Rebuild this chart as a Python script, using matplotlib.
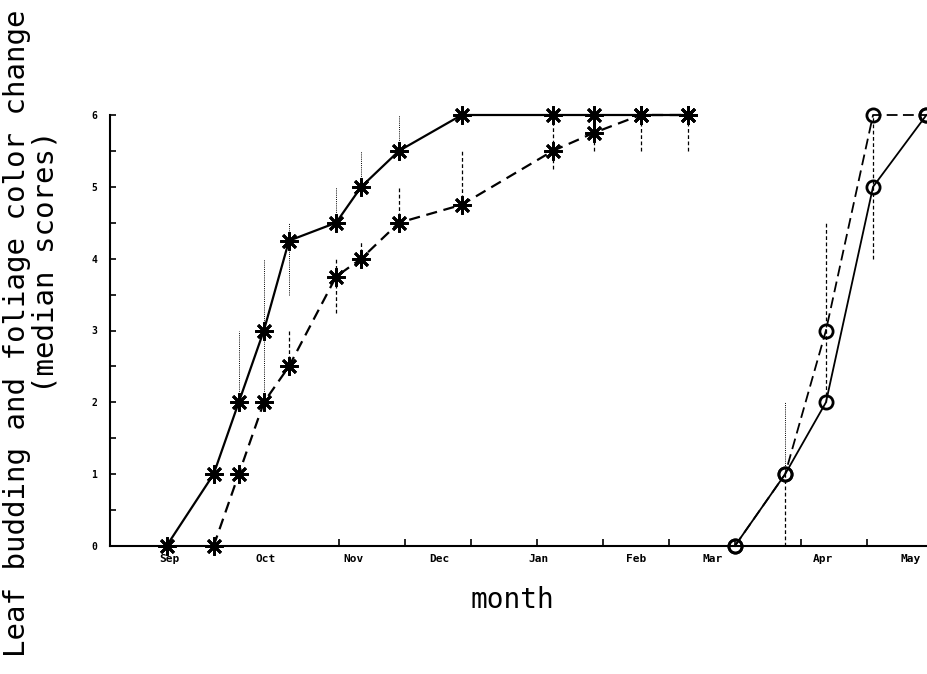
import numpy as np
import matplotlib
matplotlib.use("Agg")
import matplotlib.pyplot as plt

# x positions in days from 1 Sep
star_x_solid = [-1, 14, 22, 30, 38, 53, 61, 73, 93, 122, 135, 150, 165]
star_y_solid = [0, 1, 2, 3, 4.25, 4.5, 5, 5.5, 6, 6, 6, 6, 6]
star_x_dash = [14, 22, 30, 38, 53, 61, 73, 93, 122, 135, 150, 165]
star_y_dash = [0, 1, 2, 2.5, 3.75, 4, 4.5, 4.75, 5.5, 5.75, 6, 6]

circ_x = [180, 196, 209, 224, 241]
circ_y_solid = [0, 1, 2, 5, 6]
circ_y_dash = [0, 1, 3, 6, 6]

# range bars (x, low, high)
bars_dotted = [(22, 2, 3), (30, 2, 4), (38, 3.5, 4.5), (53, 4.5, 5), (61, 5, 5.5),
               (73, 5.5, 6), (196, 1, 2)]
bars_dashed = [(38, 2.5, 3), (53, 3.25, 4), (61, 4, 4.25), (73, 4.5, 5), (93, 4.75, 5.5),
               (122, 5.25, 6), (135, 5.5, 6), (150, 5.5, 6), (165, 5.5, 6),
               (196, 0, 1), (209, 2, 4.5), (224, 4, 6)]

month_names = ["Sep", "Oct", "Nov", "Dec", "Jan", "Feb", "Mar", "Apr", "May"]
month_pos = [0, 30.5, 58.5, 86, 117.5, 148.5, 173, 208, 236]
tick_pos = [54, 75, 96, 117, 138, 159, 180, 201, 222]

mono = "DejaVu Sans Mono"

fig = plt.figure(figsize=(9.28, 6.74), dpi=100)
ax = fig.add_axes([110 / 928, 128 / 674, 818 / 928, 431 / 674])

for x, lo, hi in bars_dotted:
    ax.plot([x, x], [lo, hi], color="black", lw=0.7, ls=(0, (1, 1.2)), zorder=1)
for x, lo, hi in bars_dashed:
    ax.plot([x, x], [lo, hi], color="black", lw=0.9, ls=(0, (3, 2)), zorder=1)

star = (8, 2, 0)
ax.plot(star_x_solid, star_y_solid, color="black", lw=1.6, marker=star,
        ms=13, mew=2.0, clip_on=False, zorder=3)
ax.plot(star_x_dash, star_y_dash, color="black", lw=1.6, ls=(0, (5, 3)), marker=star,
        ms=13, mew=2.0, clip_on=False, zorder=3)
ax.plot(circ_x, circ_y_solid, color="black", lw=1.3, marker="o", ms=9.5, mew=2,
        mfc="none", clip_on=False, zorder=3)
ax.plot(circ_x, circ_y_dash, color="black", lw=1.3, ls=(0, (6, 3)), marker="o", ms=9.5,
        mew=2, mfc="none", clip_on=False, zorder=3)

ax.set_xlim(-19, 241.5)
ax.set_ylim(0, 6)
for s in ["top", "right"]:
    ax.spines[s].set_visible(False)
ax.spines["left"].set_linewidth(1.5)
ax.spines["bottom"].set_linewidth(1.5)

ax.set_yticks(range(7))
ax.set_yticks(np.arange(0, 6.01, 0.5), minor=True)
ax.set_yticklabels([str(i) for i in range(7)], fontfamily=mono, fontweight="bold", fontsize=7)
ax.tick_params(axis="y", which="both", direction="in", length=4, width=1.2, pad=9)

ax.set_xticks(tick_pos)
ax.set_xticklabels([])
ax.tick_params(axis="x", which="major", direction="in", length=5, width=1.2)
ax.set_xticks(month_pos, minor=True)
ax.set_xticklabels(month_names, minor=True, fontfamily=mono, fontweight="bold", fontsize=8)
ax.tick_params(axis="x", which="minor", length=0, pad=6)

fig.text(512 / 928, 1 - 600 / 674, "month", fontfamily=mono, fontsize=20,
         ha="center", va="center")
fig.text(17 / 928, 1 - 333 / 674, "Leaf budding and foliage color change", fontfamily=mono,
         fontsize=21, rotation=90, ha="center", va="center")
fig.text(46 / 928, 1 - 262 / 674, "(median scores)", fontfamily=mono,
         fontsize=21, rotation=90, ha="center", va="center")

fig.savefig("out.png", dpi=100)
